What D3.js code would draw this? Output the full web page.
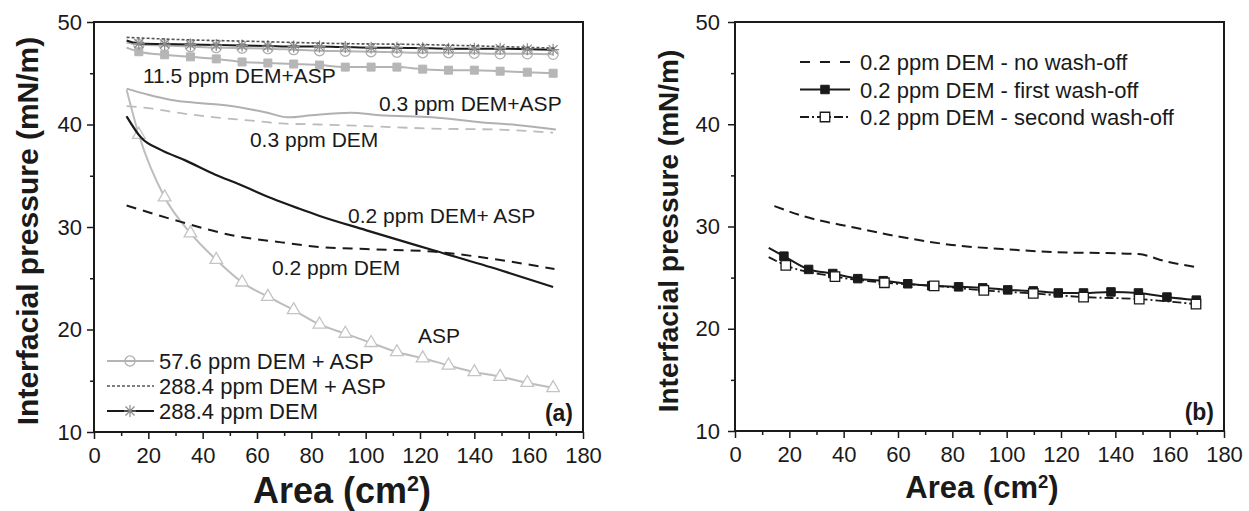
<!DOCTYPE html>
<html>
<head>
<meta charset="utf-8">
<script src="https://cdn.jsdelivr.net/npm/d3@7"></script>
<style>
  body { margin: 0; background: #fff; }
  text { font-family: "Liberation Sans", Arial, Helvetica, sans-serif; fill: #1a1a1a; }
</style>
</head>
<body>
<div id="chart"></div>
<script>
// x = area (cm2), y = interfacial pressure (mN/m)
var xTicks = [0, 20, 40, 60, 80, 100, 120, 140, 160, 180];
var xMinor = [10, 30, 50, 70, 90, 110, 130, 150, 170];
var yTicks = [10, 20, 30, 40, 50];
var yMinor = [15, 25, 35, 45];

// panel (a): series with markers share these areas (first one is line start, no marker)
var areaA = [12, 16.5, 26, 35.5, 45, 54.5, 64, 73.5, 83, 92.5, 102, 111.5, 121, 130.5, 140, 149.5, 159.5, 169];
var dem288 = [48.2, 47.9, 47.85, 47.8, 47.75, 47.7, 47.65, 47.6, 47.6, 47.55, 47.5, 47.5, 47.45, 47.4, 47.4, 47.4, 47.35, 47.3];
var dem576asp = [48.0, 47.8, 47.7, 47.6, 47.5, 47.45, 47.4, 47.3, 47.2, 47.15, 47.1, 47.05, 47.0, 47.0, 46.95, 46.9, 46.9, 46.85];
var dem115asp = [47.5, 47.1, 46.8, 46.6, 46.4, 46.1, 46.0, 45.9, 45.8, 45.6, 45.6, 45.6, 45.4, 45.3, 45.3, 45.2, 45.1, 45.0];
var asp = [43.4, 39.0, 32.9, 29.4, 26.8, 24.6, 23.2, 21.9, 20.5, 19.6, 18.7, 17.8, 17.2, 16.5, 15.85, 15.4, 14.8, 14.3];

// panel (a): plain lines
var dem288aspX = [12, 30, 60, 90, 120, 150, 170];
var dem288aspY = [48.5, 48.3, 48.1, 47.9, 47.8, 47.6, 47.45];
var dem03aspX = [12, 20, 28.5, 38.5, 50.5, 63, 71.5, 80, 94.5, 105, 124.5, 143, 155.5, 170];
var dem03aspY = [43.5, 42.9, 42.4, 42.1, 41.8, 41.2, 40.7, 40.9, 41.15, 40.9, 40.7, 40.2, 39.95, 39.5];
var dem03X = [12, 20, 32, 44.5, 57, 69, 83, 100, 124.5, 149, 169];
var dem03Y = [41.8, 41.6, 41.1, 40.7, 40.4, 40.1, 40.0, 39.85, 39.6, 39.5, 39.2];
var dem02aspX = [12, 17.4, 24.8, 33.6, 44.7, 53.2, 65.4, 75.4, 82.8, 100, 124.6, 149.4, 169];
var dem02aspY = [40.8, 38.7, 37.5, 36.5, 35.1, 34.2, 32.8, 31.8, 31.1, 29.7, 27.75, 25.8, 24.15];
var dem02X = [12, 32, 50.7, 69, 83, 100, 124.6, 149, 169.5];
var dem02Y = [32.1, 30.5, 29.2, 28.5, 28.05, 27.85, 27.6, 26.8, 25.9];

// panel (b)
var noWashX = [14.5, 25.3, 43.8, 56.6, 79.8, 101, 122.8, 137, 148.5, 158.5, 170.5];
var noWashY = [32.0, 31.0, 29.9, 29.2, 28.2, 27.75, 27.45, 27.4, 27.3, 26.6, 26.0];
var firstWashX = [12.4, 18, 27.1, 36, 45.2, 54.6, 63.6, 72.4, 82.3, 91.2, 100.4, 109.8, 119, 128.3, 138.4, 148.5, 159, 169.8];
var firstWashY = [27.9, 27.1, 25.8, 25.4, 24.9, 24.7, 24.4, 24.2, 24.1, 24.0, 23.8, 23.7, 23.5, 23.5, 23.6, 23.5, 23.1, 22.8];
var secondWashX = [12.4, 18.7, 36.8, 55, 73.3, 91.6, 109.8, 128.3, 148.8, 169.7];
var secondWashY = [27.0, 26.2, 25.1, 24.5, 24.2, 23.75, 23.45, 23.1, 22.9, 22.4];

var legendA = ["57.6 ppm DEM + ASP", "288.4 ppm DEM + ASP", "288.4 ppm DEM"];
var legendB = ["0.2 ppm DEM - no wash-off", "0.2 ppm DEM - first wash-off", "0.2 ppm DEM - second wash-off"];
var notesA = [
  {text: "11.5 ppm DEM+ASP", x: 18, y: 44.05},
  {text: "0.3 ppm DEM+ASP", x: 104.9, y: 41.3},
  {text: "0.3 ppm DEM", x: 57.4, y: 37.8},
  {text: "0.2 ppm DEM+ ASP", x: 93.5, y: 30.4},
  {text: "0.2 ppm DEM", x: 65.5, y: 25.3},
  {text: "ASP", x: 119.3, y: 18.7}
];

var svg = d3.select("#chart").append("svg")
    .attr("width", 1249)
    .attr("height", 511);

var ink = "#1a1a1a", grey = "#b4b4b4";

function toPts(xs, ys) {
  return xs.map(function(v, i) { return [v, ys[i]]; });
}

// asterisk: vertical, horizontal and two diagonals
function asterisk(r) {
  var d = r * 0.75;
  return "M0," + (-r) + "V" + r + "M" + (-r) + ",0H" + r +
         "M" + (-d) + "," + (-d) + "L" + d + "," + d +
         "M" + (-d) + "," + d + "L" + d + "," + (-d);
}

function makePanel(p) {
  var x = d3.scaleLinear().domain([0, 180]).range([p.left, p.right]);
  var y = d3.scaleLinear().domain([10, 50]).range([p.bottom, 22]);
  var g = svg.append("g");

  // axes
  var ax = g.append("g").attr("transform", "translate(0," + p.bottom + ")")
      .call(d3.axisBottom(x).tickValues(xTicks).tickSize(7).tickPadding(8));
  ax.selectAll("text").style("font-size", p.tickFont + "px");
  g.append("g").attr("transform", "translate(0," + p.bottom + ")")
      .call(d3.axisBottom(x).tickValues(xMinor).tickSize(4).tickFormat(""));
  var ay = g.append("g").attr("transform", "translate(" + p.left + ",0)")
      .call(d3.axisLeft(y).tickValues(yTicks).tickSize(7).tickPadding(p.yPad));
  ay.selectAll("text").style("font-size", p.tickFont + "px");
  g.append("g").attr("transform", "translate(" + p.left + ",0)")
      .call(d3.axisLeft(y).tickValues(yMinor).tickSize(4).tickFormat(""));
  g.selectAll(".domain").remove();
  g.selectAll(".tick line").attr("stroke", ink).attr("stroke-width", 1.5);
  g.selectAll(".tick text").attr("fill", ink);

  g.append("rect")
      .attr("x", p.left).attr("y", 22)
      .attr("width", p.right - p.left).attr("height", p.bottom - 22)
      .attr("fill", "none").attr("stroke", ink).attr("stroke-width", 2);

  // titles
  g.append("text")
      .attr("transform", "translate(" + p.yTitleX + ",231)rotate(-90)")
      .style("text-anchor", "middle")
      .style("font-weight", "bold")
      .style("font-size", p.yTitleFont + "px")
      .text("Interfacial pressure (mN/m)");
  var xt = g.append("text")
      .attr("x", p.xTitleX).attr("y", p.xTitleY)
      .style("text-anchor", "middle")
      .style("font-weight", "bold")
      .style("font-size", p.xTitleFont + "px");
  xt.append("tspan").text("Area (cm");
  xt.append("tspan").attr("dy", "-0.55em").style("font-size", "0.6em").text("2");
  xt.append("tspan").attr("dy", "0.33em").text(")");

  g.append("text")
      .attr("x", p.right - 10).attr("y", p.bottom - 11)
      .style("text-anchor", "end")
      .style("font-weight", "bold")
      .style("font-size", "23px")
      .text(p.tag);

  return {g: g, x: x, y: y};
}

function drawLine(P, pts, color, width, dash) {
  var line = d3.line()
      .x(function(d) { return P.x(d[0]); })
      .y(function(d) { return P.y(d[1]); })
      .curve(d3.curveMonotoneX);
  P.g.append("path")
      .datum(pts)
      .attr("d", line)
      .attr("fill", "none")
      .attr("stroke", color)
      .attr("stroke-width", width)
      .attr("stroke-dasharray", dash || null);
}

function drawMarks(P, pts, kind) {
  var sel = P.g.append("g").selectAll("path")
      .data(pts.slice(1))
    .enter().append("path")
      .attr("transform", function(d) { return "translate(" + P.x(d[0]) + "," + P.y(d[1]) + ")"; });
  styleMark(sel, kind);
}

function styleMark(sel, kind) {
  if (kind === "star") {
    sel.attr("d", asterisk(6)).attr("fill", "none").attr("stroke", "#8a8a8a").attr("stroke-width", 1.2);
  } else if (kind === "circle") {
    sel.attr("d", d3.symbol(d3.symbolCircle, 80)()).attr("fill", "none").attr("stroke", "#b0b0b0").attr("stroke-width", 1.3);
  } else if (kind === "greySquare") {
    sel.attr("d", d3.symbol(d3.symbolSquare, 64)()).attr("fill", "#b6b6b6").attr("stroke", "#b6b6b6");
  } else if (kind === "triangle") {
    sel.attr("d", d3.symbol(d3.symbolTriangle, 70)()).attr("fill", "#fff").attr("stroke", "#c4c4c4").attr("stroke-width", 1.3);
  } else if (kind === "blackSquare") {
    sel.attr("d", d3.symbol(d3.symbolSquare, 72)()).attr("fill", ink).attr("stroke", ink);
  } else if (kind === "openSquare") {
    sel.attr("d", d3.symbol(d3.symbolSquare, 90)()).attr("fill", "#fff").attr("stroke", ink).attr("stroke-width", 1.3);
  }
}

//
// panel (a)
//
var A = makePanel({left: 94, right: 583, bottom: 432, tickFont: 22, yPad: 5,
                   yTitleX: 38, yTitleFont: 30, xTitleX: 342, xTitleY: 503, xTitleFont: 36, tag: "(a)"});

drawLine(A, toPts(dem03X, dem03Y), "#bcbcbc", 1.8, "10,7");
drawLine(A, toPts(dem03aspX, dem03aspY), "#b0b0b0", 2);
drawLine(A, toPts(areaA, asp), "#bdbdbd", 2);
drawMarks(A, toPts(areaA, asp), "triangle");
drawLine(A, toPts(dem02X, dem02Y), ink, 2, "10,7");
drawLine(A, toPts(dem02aspX, dem02aspY), ink, 2.2);
drawLine(A, toPts(areaA, dem115asp), grey, 2);
drawMarks(A, toPts(areaA, dem115asp), "greySquare");
drawLine(A, toPts(areaA, dem576asp), grey, 2);
drawMarks(A, toPts(areaA, dem576asp), "circle");
drawLine(A, toPts(areaA, dem288), ink, 2);
drawMarks(A, toPts(areaA, dem288), "star");
drawLine(A, toPts(dem288aspX, dem288aspY), "#555", 1.6, "3,2");

A.g.selectAll(".note")
    .data(notesA)
  .enter().append("text")
    .attr("x", function(d) { return A.x(d.x); })
    .attr("y", function(d) { return A.y(d.y); })
    .style("font-size", "21px")
    .text(function(d) { return d.text; });

// legend (a)
var legA = A.g.append("g");
var legAStyle = [
  {color: grey, width: 2, dash: null, mark: "circle"},
  {color: "#555", width: 1.6, dash: "3,2", mark: null},
  {color: ink, width: 2, dash: null, mark: "star"}
];
legendA.forEach(function(t, i) {
  var cy = 361 + i * 25, s = legAStyle[i];
  legA.append("line").attr("x1", 107).attr("x2", 154).attr("y1", cy).attr("y2", cy)
      .attr("stroke", s.color).attr("stroke-width", s.width).attr("stroke-dasharray", s.dash);
  if (s.mark) styleMark(legA.append("path").attr("transform", "translate(130," + cy + ")"), s.mark);
  legA.append("text").attr("x", 159).attr("y", cy + 8).style("font-size", "22px").text(t);
});

//
// panel (b)
//
var B = makePanel({left: 735, right: 1224, bottom: 431, tickFont: 22, yPad: 8,
                   yTitleX: 678, yTitleFont: 28, xTitleX: 982, xTitleY: 498, xTitleFont: 31, tag: "(b)"});

drawLine(B, toPts(noWashX, noWashY), ink, 2, "10,6");
drawLine(B, toPts(secondWashX, secondWashY), ink, 1.8, "9,3,2,3");
drawLine(B, toPts(firstWashX, firstWashY), ink, 2);
drawMarks(B, toPts(firstWashX, firstWashY), "blackSquare");
drawMarks(B, toPts(secondWashX, secondWashY), "openSquare");

var legB = B.g.append("g");
var legBStyle = [
  {dash: "10,10", mark: null},
  {dash: null, mark: "blackSquare"},
  {dash: "9,3,2,3", mark: "openSquare"}
];
legendB.forEach(function(t, i) {
  var cy = 62 + i * 27.5, s = legBStyle[i];
  legB.append("line").attr("x1", 800).attr("x2", 850).attr("y1", cy).attr("y2", cy)
      .attr("stroke", ink).attr("stroke-width", 2).attr("stroke-dasharray", s.dash);
  if (s.mark) styleMark(legB.append("path").attr("transform", "translate(825," + cy + ")"), s.mark);
  legB.append("text").attr("x", 860).attr("y", cy + 8).style("font-size", "22px").text(t);
});
</script>
</body>
</html>
